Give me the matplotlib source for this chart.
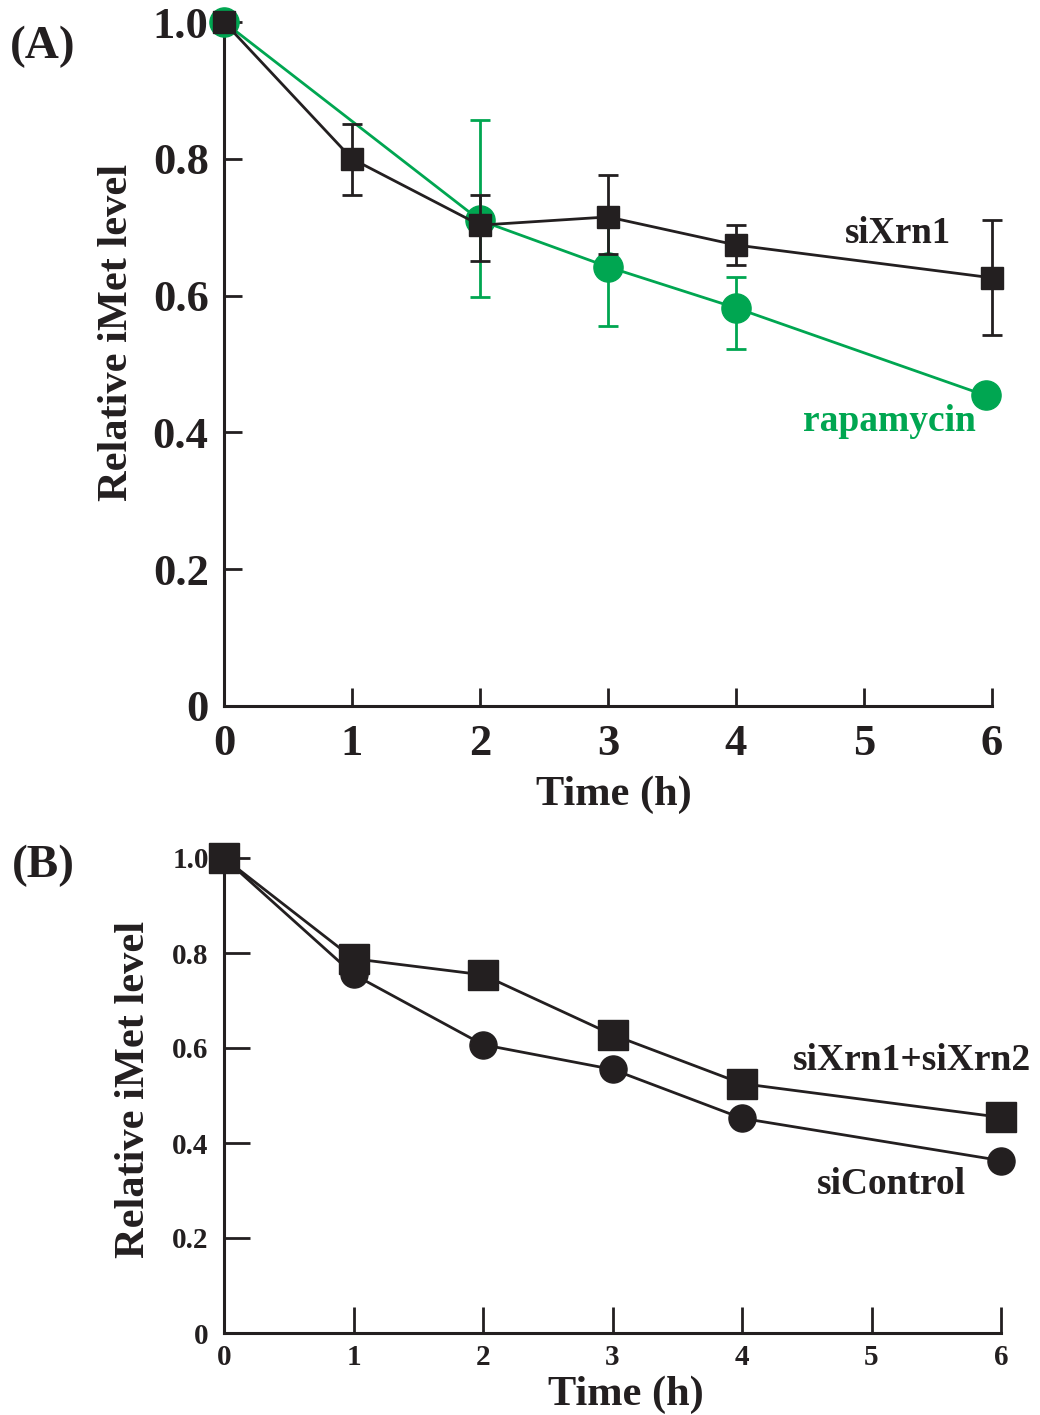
import numpy as np
import matplotlib.pyplot as plt

plt.rcParams['font.family'] = ['Liberation Serif', 'DejaVu Serif']
plt.rcParams['font.weight'] = 'bold'

black = '#231f20'
green = '#00a651'

# Panel A data
time_a = np.array([0, 1, 2, 3, 4, 6])
sixrn1 = np.array([1.0, 0.800, 0.703, 0.715, 0.674, 0.626])
sixrn1_lo = np.array([0, 0.053, 0.052, 0.054, 0.029, 0.084])
sixrn1_hi = np.array([0, 0.051, 0.044, 0.061, 0.029, 0.085])

time_rapa = np.array([0, 2, 3, 4, 5.95])
rapa = np.array([1.0, 0.710, 0.642, 0.582, 0.454])
rapa_lo = np.array([0, 0.112, 0.087, 0.060, 0])
rapa_hi = np.array([0, 0.147, 0.087, 0.045, 0])

# Panel B data
time_b = np.array([0, 1, 2, 3, 4, 6])
sixrn12 = np.array([1.0, 0.788, 0.754, 0.628, 0.525, 0.454])
sicontrol = np.array([1.0, 0.755, 0.607, 0.555, 0.452, 0.363])

yticks = [0, 0.2, 0.4, 0.6, 0.8, 1.0]
ytick_labels = ['0', '0.2', '0.4', '0.6', '0.8', '1.0']
xticks = [0, 1, 2, 3, 4, 5, 6]

W, H = 1040, 1415
fig = plt.figure(figsize=(W / 100, H / 100), dpi=100)


def style(ax, tick_len, fs, ypad, xpad):
    for s in ['top', 'right']:
        ax.spines[s].set_visible(False)
    for s in ['left', 'bottom']:
        ax.spines[s].set_linewidth(2.2)
        ax.spines[s].set_color(black)
    ax.set_xlim(0, 6)
    ax.set_ylim(0, 1.0)
    ax.set_xticks(xticks)
    ax.set_yticks(yticks)
    ax.set_yticklabels(ytick_labels)
    ax.tick_params(direction='in', length=tick_len, width=2, color=black,
                   labelsize=fs, labelcolor=black)
    ax.tick_params(axis='y', pad=ypad)
    ax.tick_params(axis='x', pad=xpad)


def no_clip(container):
    for art in container.lines:
        if art is None:
            continue
        for a in (art if isinstance(art, tuple) else (art,)):
            a.set_clip_on(False)
    for coll in container.lines[2]:
        coll.set_clip_on(False)


# ---- Panel A ----
axA = fig.add_axes([224 / W, 1 - 706 / H, 768 / W, (706 - 22) / H])
style(axA, 13, 32, 11, 13)

m = rapa_hi > 0
eb = axA.errorbar(time_rapa[m], rapa[m], yerr=[rapa_lo[m], rapa_hi[m]], fmt='none',
                  ecolor=green, elinewidth=2, capsize=7, capthick=2, zorder=2)
no_clip(eb)
axA.plot(time_rapa, rapa, color=green, lw=2, marker='o', ms=21,
         mec=green, mfc=green, clip_on=False, zorder=3)

m = sixrn1_hi > 0
eb = axA.errorbar(time_a[m], sixrn1[m], yerr=[sixrn1_lo[m], sixrn1_hi[m]], fmt='none',
                  ecolor=black, elinewidth=2, capsize=7, capthick=2, zorder=4)
no_clip(eb)
axA.plot(time_a, sixrn1, color=black, lw=2, marker='s', ms=15.5,
         mec=black, mfc=black, clip_on=False, zorder=5)

axA.text(4.85, 0.677, 'siXrn1', fontsize=26.5, color=black, ha='left', va='baseline')
axA.text(4.52, 0.402, 'rapamycin', fontsize=27, color=green, ha='left', va='baseline')

fig.text(10 / W, 1 - 58 / H, '(A)', fontsize=34, color=black, ha='left', va='baseline')
fig.text(117 / W, 1 - 332 / H, 'Relative iMet level', fontsize=30.5, color=black,
         rotation=90, ha='center', va='center')
fig.text(614 / W, 1 - 795 / H, 'Time (h)', fontsize=30.5, color=black,
         ha='center', va='center')

# ---- Panel B ----
axB = fig.add_axes([224 / W, 1 - 1333 / H, 777 / W, (1333 - 858) / H])
style(axB, 19, 21, 11, 8)

axB.plot(time_b, sicontrol, color=black, lw=2, marker='o', ms=19.5,
         mec=black, mfc=black, clip_on=False, zorder=3)
axB.plot(time_b, sixrn12, color=black, lw=2, marker='s', ms=21,
         mec=black, mfc=black, clip_on=False, zorder=4)

axB.text(4.39, 0.554, 'siXrn1+siXrn2', fontsize=27, color=black, ha='left', va='baseline')
axB.text(4.58, 0.293, 'siControl', fontsize=27, color=black, ha='left', va='baseline')

fig.text(12 / W, 1 - 877 / H, '(B)', fontsize=34, color=black, ha='left', va='baseline')
fig.text(134 / W, 1 - 1089 / H, 'Relative iMet level', fontsize=30.5, color=black,
         rotation=90, ha='center', va='center')
fig.text(626 / W, 1 - 1395 / H, 'Time (h)', fontsize=30.5, color=black,
         ha='center', va='center')

fig.savefig('out.png', dpi=100)
